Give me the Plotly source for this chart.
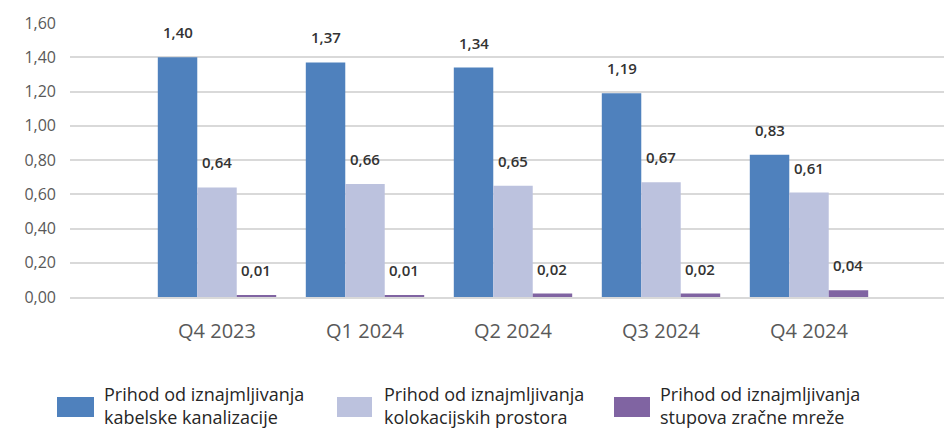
import plotly.graph_objects as go

# Quarterly revenue (in millions) by rental type
quarters = ["Q4 2023", "Q1 2024", "Q2 2024", "Q3 2024", "Q4 2024"]
series_names = [
    "Prihod od iznajmljivanja<br>kabelske kanalizacije",
    "Prihod od iznajmljivanja<br>kolokacijskih prostora",
    "Prihod od iznajmljivanja<br>stupova zračne mreže",
]
kabelska = [1.40, 1.37, 1.34, 1.19, 0.83]
kolokacija = [0.64, 0.66, 0.65, 0.67, 0.61]
stupovi = [0.01, 0.01, 0.02, 0.02, 0.04]
y_ticks = [0.0, 0.2, 0.4, 0.6, 0.8, 1.0, 1.2, 1.4, 1.6]

colors = ["#4F81BD", "#BCC2DE", "#8064A2"]
all_values = [kabelska, kolokacija, stupovi]

W, H = 944, 428
ML, MR, MT, MB = 70, 0, 23, 131
plot_w = W - ML - MR
plot_h = H - MT - MB

fig = go.Figure()
for name, vals, col in zip(series_names, all_values, colors):
    fig.add_trace(go.Bar(
        x=quarters, y=vals, name=name, marker=dict(color=col, line=dict(width=0)),
        showlegend=False,
    ))

def fmt(v):
    return f"{v:.2f}".replace(".", ",")

# value labels above each bar
bar_px = 0.8 / 3 * 148
annotations = []
for si, vals in enumerate(all_values):
    for q, v in zip(quarters, vals):
        annotations.append(dict(
            x=q, y=v, xref="x", yref="y", text=fmt(v), showarrow=False,
            xshift=(si - 1) * bar_px, yshift=25, yanchor="middle",
            font=dict(family="Open Sans", size=15, color="#333333", weight=600),
        ))

# legend: swatch + two-line caption per series
legend_items = [(57, 94, 102), (337, 372, 382), (614, 650, 658)]
shapes = []
def px_x(p):
    return (p - ML) / plot_w
def px_y(p):
    return (H - MB - p) / plot_h
for (sx0, sx1, tx), name, col in zip(legend_items, series_names, colors):
    shapes.append(dict(type="rect", xref="paper", yref="paper",
                       x0=px_x(sx0), x1=px_x(sx1), y0=px_y(417), y1=px_y(397),
                       fillcolor=col, line=dict(width=0)))
    annotations.append(dict(
        x=px_x(tx), y=px_y(405), xref="paper", yref="paper", text=name,
        showarrow=False, xanchor="left", yanchor="middle", align="left",
        font=dict(family="Open Sans", size=18, color="#262626"),
    ))

n = len(quarters)
left_units = (217 - ML) / 148
right_units = (W - MR - 809) / 148

fig.update_layout(
    width=W, height=H,
    margin=dict(l=ML, r=MR, t=MT, b=MB, pad=0),
    plot_bgcolor="white", paper_bgcolor="white",
    barmode="group", bargap=0.2, bargroupgap=0,
    separators=", ",
    annotations=annotations, shapes=shapes,
    xaxis=dict(
        range=[-left_units, n - 1 + right_units],
        showgrid=False, showline=True, linecolor="#D9D9D9", linewidth=2,
        ticks="outside", ticklen=15, tickcolor="rgba(0,0,0,0)",
        tickfont=dict(family="Open Sans", size=20, color="#595959"),
        fixedrange=True,
    ),
    yaxis=dict(
        range=[0, 1.6], tickvals=y_ticks, tickformat=".2f",
        showgrid=True, gridcolor="#D9D9D9", gridwidth=2,
        zeroline=False, showline=False,
        ticklabelstandoff=13,
        tickfont=dict(family="Open Sans", size=16, color="#595959"),
        fixedrange=True,
    ),
)

fig.write_html("out.html")
